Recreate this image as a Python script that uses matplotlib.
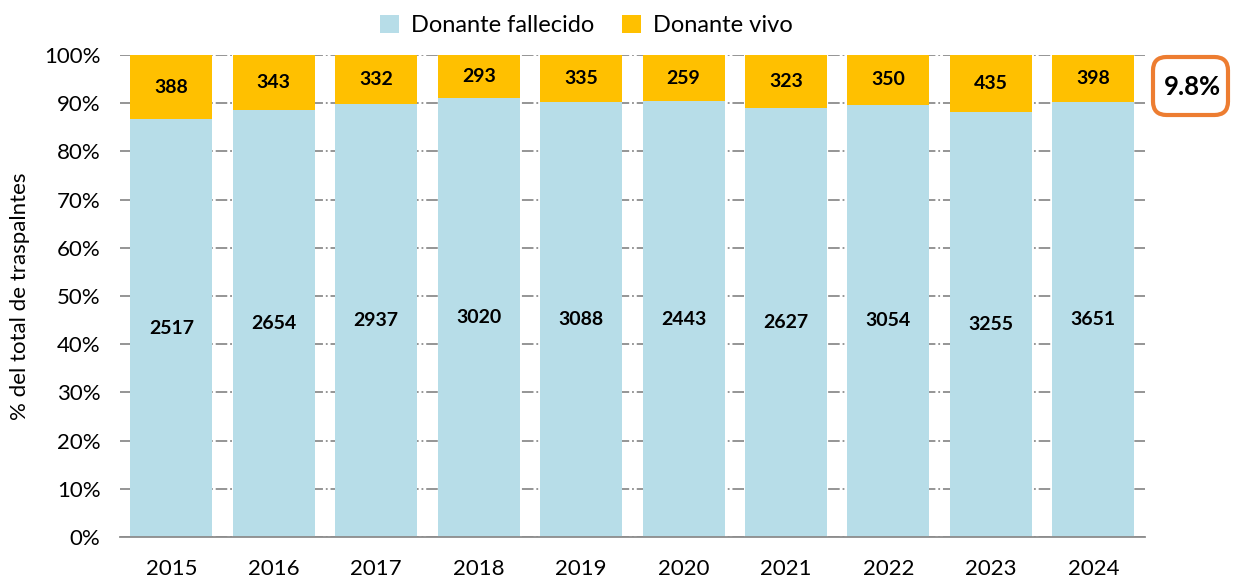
import matplotlib.pyplot as plt
import numpy as np
from matplotlib.patches import FancyBboxPatch
from matplotlib.ticker import PercentFormatter

plt.rcParams['font.family'] = ['Lato', 'DejaVu Sans']

years = ["2015", "2016", "2017", "2018", "2019", "2020", "2021", "2022", "2023", "2024"]
fallecido = [2517, 2654, 2937, 3020, 3088, 2443, 2627, 3054, 3255, 3651]
vivo = [388, 343, 332, 293, 335, 259, 323, 350, 435, 398]
last_share = "9.8%"

col_fall = "#B7DDE8"
col_vivo = "#FFC000"

fall = np.array(fallecido, dtype=float)
viv = np.array(vivo, dtype=float)
total = fall + viv
p_fall = fall / total * 100
p_vivo = viv / total * 100

fig = plt.figure(figsize=(12.35, 5.84), dpi=100)
ax = fig.add_axes([0.0972, 0.0805, 0.8296, 0.8253])

x = np.arange(len(years))
ax.bar(x, p_fall, width=0.8, color=col_fall, label="Donante fallecido", zorder=2)
ax.bar(x, p_vivo, width=0.8, bottom=p_fall, color=col_vivo, label="Donante vivo", zorder=2)

for i in range(len(years)):
    ax.text(x[i], p_fall[i] / 2, str(fallecido[i]), ha="center", va="center",
            fontsize=14, fontweight="bold", color="black", zorder=3)
    ax.text(x[i], p_fall[i] + p_vivo[i] / 2, str(vivo[i]), ha="center", va="center",
            fontsize=14, fontweight="bold", color="black", zorder=3)

ax.set_xlim(-0.5, len(years) - 0.5)
ax.set_ylim(0, 100)
ax.set_yticks(np.arange(0, 101, 10))
ax.yaxis.set_major_formatter(PercentFormatter(decimals=0))
ax.set_xticks(x)
ax.set_xticklabels(years)
ax.tick_params(axis="both", length=0, labelsize=16, colors="black")
ax.tick_params(axis="x", pad=16)
ax.tick_params(axis="y", pad=14)
ax.grid(axis="y", color="#8c8c8c", linestyle="-.", linewidth=1.3, zorder=0)
ax.set_axisbelow(True)
for s in ["left", "right", "top"]:
    ax.spines[s].set_visible(False)
ax.spines["bottom"].set_color("#8c8c8c")
ax.spines["bottom"].set_linewidth(1.3)

ax.set_ylabel("% del total de traspalntes", fontsize=16, labelpad=10)

ax.legend(loc="lower center", bbox_to_anchor=(0.455, 1.02), ncol=2, frameon=False,
          fontsize=17, handlelength=0.8, handleheight=0.8, handletextpad=0.5,
          columnspacing=1.2, borderaxespad=0.0)

box = FancyBboxPatch((1153 / 1235, 1 - 115 / 584), 75 / 1235, 58 / 584,
                     boxstyle="round,pad=0,rounding_size=0.011",
                     transform=fig.transFigure, facecolor="white",
                     edgecolor="#ED7D31", linewidth=3, mutation_aspect=2.1)
fig.patches.append(box)
fig.text(1192 / 1235, 1 - 87 / 584, last_share, ha="center", va="center",
         fontsize=18.5, fontweight="bold")

fig.savefig("out.png", dpi=100)
